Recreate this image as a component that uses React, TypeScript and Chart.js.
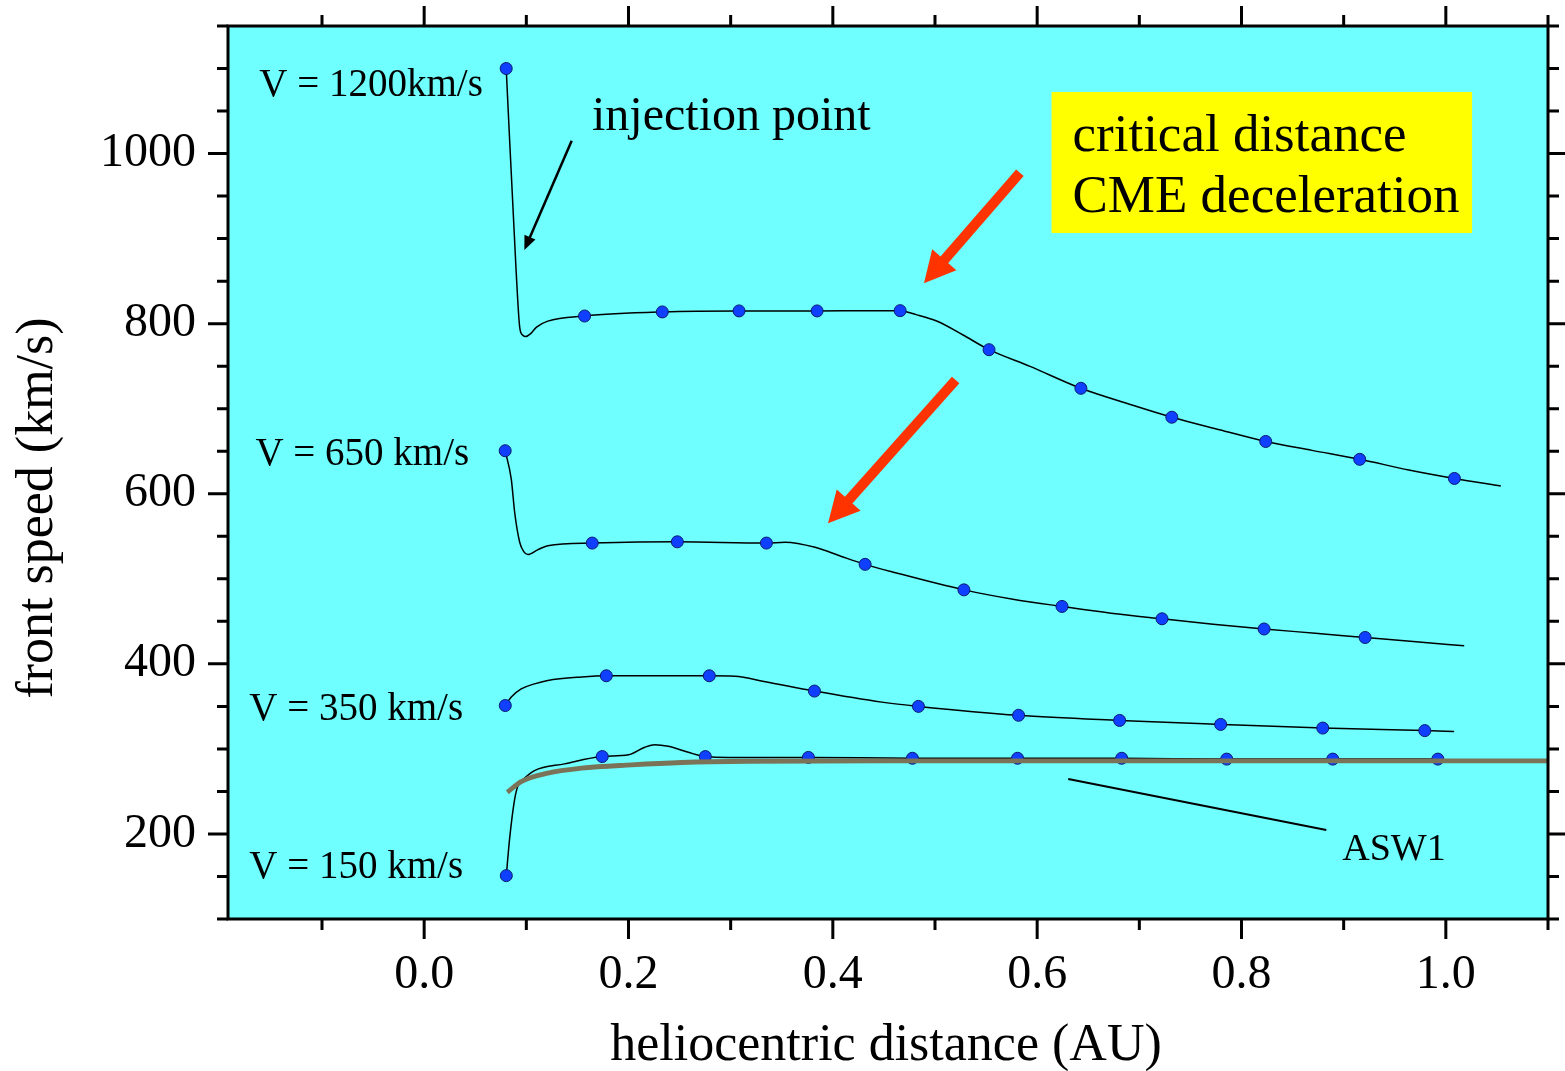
import React, { useEffect, useRef } from 'react';
import { Chart, registerables } from 'chart.js';

Chart.register(...registerables);

const FONT = '"Liberation Serif", "Times New Roman", Times, serif';

// ---- axes ----
const X_MIN = -0.192;
const X_MAX = 1.1;
const Y_MIN = 100;
const Y_MAX = 1150;
const X_TICKS = [-0.1, 0.0, 0.1, 0.2, 0.3, 0.4, 0.5, 0.6, 0.7, 0.8, 0.9, 1.0, 1.1];
const X_LABELED = [0.0, 0.2, 0.4, 0.6, 0.8, 1.0];
const Y_TICKS = [100, 150, 200, 250, 300, 350, 400, 450, 500, 550, 600, 650, 700, 750, 800, 850, 900, 950, 1000, 1050, 1100, 1150];
const Y_LABELED = [200, 400, 600, 800, 1000];

// ---- marker points (heliocentric distance AU, front speed km/s) ----
const PTS_1200: [number, number][] = [
  [0.0803, 1100], [0.157, 809], [0.2331, 813.8], [0.3082, 815], [0.3846, 815], [0.4659, 815.3],
  [0.5529, 769.4], [0.6428, 724], [0.7318, 690], [0.8237, 661.5], [0.9157, 640.5], [1.0084, 618],
];
const PTS_650: [number, number][] = [
  [0.0793, 650.6], [0.1645, 542], [0.2478, 543.5], [0.335, 542], [0.4316, 517], [0.5283, 487],
  [0.6243, 467.5], [0.7222, 453], [0.8221, 441], [0.921, 431],
];
const PTS_350: [number, number][] = [
  [0.0794, 351], [0.1783, 386], [0.2791, 386], [0.382, 368], [0.4838, 350], [0.5818, 339.5],
  [0.6807, 333.5], [0.7796, 328.8], [0.8795, 324.5], [0.9794, 321.5],
];
const PTS_150: [number, number][] = [
  [0.0804, 151], [0.1743, 291], [0.2752, 291], [0.3761, 290], [0.4779, 289], [0.5808, 289],
  [0.6827, 289], [0.7855, 288], [0.8893, 288], [0.9922, 288],
];

// ---- model curves ----
const CURVE_1200: [number, number][] = [
  [0.0803, 1100], [0.0898, 867], [0.0936, 795], [0.0965, 786.5], [0.0995, 785], [0.104, 788],
  [0.11, 796], [0.121, 803], [0.157, 809], [0.2331, 813.8], [0.3082, 815], [0.3846, 815],
  [0.4362, 815.3], [0.4659, 815.3], [0.4816, 810.6], [0.5022, 802.8], [0.527, 787], [0.5529, 769.4],
  [0.593, 749.8], [0.6428, 724], [0.6919, 704.7], [0.7318, 690], [0.7784, 675.3], [0.8237, 661.5],
  [0.869, 651], [0.9157, 640.5], [0.9638, 628], [1.0084, 618], [1.0538, 609],
];
const CURVE_650: [number, number][] = [
  [0.0793, 650.6], [0.0853, 617], [0.0886, 578], [0.0935, 543], [0.0975, 532], [0.1016, 528.5],
  [0.111, 534], [0.121, 539], [0.1645, 542], [0.2478, 543.5], [0.335, 542], [0.3533, 543],
  [0.3827, 537], [0.4084, 526.3], [0.4316, 517], [0.4603, 507.5], [0.5283, 487], [0.5763, 476],
  [0.6243, 467.5], [0.6723, 459.6], [0.7222, 453], [0.7722, 446.7], [0.8221, 441], [0.8722, 436],
  [0.921, 431], [0.968, 426.2], [1.018, 421.2],
];
const CURVE_350: [number, number][] = [
  [0.0794, 351], [0.0853, 361], [0.095, 370.5], [0.108, 376.5], [0.121, 380.5], [0.154, 384.6],
  [0.1783, 386], [0.2791, 386], [0.304, 385.5], [0.334, 379], [0.382, 368], [0.448, 355],
  [0.4838, 350], [0.5818, 339.5], [0.6807, 333.5], [0.7796, 328.8], [0.8795, 324.5], [0.9794, 321.5],
  [1.0081, 320.5],
];
const CURVE_150: [number, number][] = [
  [0.0804, 151], [0.0836, 194], [0.0886, 241], [0.0925, 259], [0.0966, 264], [0.108, 274.5],
  [0.1374, 282.4], [0.1743, 291], [0.2, 293], [0.216, 302], [0.2258, 305], [0.239, 303],
  [0.2585, 296], [0.2752, 291], [0.298, 290], [0.3761, 290], [0.4779, 289], [0.5808, 289],
  [0.6827, 289], [0.7855, 288], [0.8893, 288], [0.9922, 288],
];
const CURVE_ASW1: [number, number][] = [
  [0.0814, 249], [0.095, 261.5], [0.121, 271.5], [0.154, 277.3], [0.203, 281.2], [0.252, 284],
  [0.317, 285.5], [0.45, 286], [0.7, 286], [1.1, 286],
];

// ---- annotation texts ----
const LABEL_TEXTS = ['V = 1200km/s', 'V = 650 km/s', 'V = 350 km/s', 'V = 150 km/s'];
const INJECTION_TEXT = 'injection point';
const BOX_TEXTS = ['critical distance', 'CME deceleration'];
const ASW_TEXT = 'ASW1';
const X_TITLE = 'heliocentric distance (AU)';
const Y_TITLE = 'front speed (km/s)';

const toXY = (arr: [number, number][]) => arr.map(([x, y]) => ({ x, y }));

function drawArrow(ctx: CanvasRenderingContext2D, x1: number, y1: number, x2: number, y2: number,
  shaft: number, headLen: number, headW: number, color: string) {
  const dx = x2 - x1, dy = y2 - y1;
  const len = Math.hypot(dx, dy);
  const ux = dx / len, uy = dy / len;
  const bx = x2 - ux * headLen, by = y2 - uy * headLen;
  ctx.save();
  ctx.strokeStyle = color;
  ctx.fillStyle = color;
  ctx.lineWidth = shaft;
  ctx.lineCap = 'butt';
  ctx.beginPath();
  ctx.moveTo(x1, y1);
  ctx.lineTo(bx + ux * 2, by + uy * 2);
  ctx.stroke();
  ctx.beginPath();
  ctx.moveTo(x2, y2);
  ctx.lineTo(bx - uy * headW / 2, by + ux * headW / 2);
  ctx.lineTo(bx + uy * headW / 2, by - ux * headW / 2);
  ctx.closePath();
  ctx.fill();
  ctx.restore();
}

const isIn = (v: number, list: number[]) => list.some((l) => Math.abs(l - v) < 1e-6);

const decorPlugin = {
  id: 'decor',
  beforeDraw(chart: any) {
    const { ctx, chartArea: a } = chart;
    ctx.save();
    ctx.fillStyle = '#6FFFFF';
    ctx.fillRect(a.left, a.top, a.right - a.left, a.bottom - a.top);
    ctx.restore();
  },
  afterDatasetsDraw(chart: any) {
    const { ctx, chartArea: a } = chart;
    const xs = chart.scales.x, ys = chart.scales.y;
    const px = (v: number) => xs.getPixelForValue(v);
    const py = (v: number) => ys.getPixelForValue(v);
    ctx.save();

    // yellow box
    const bx1 = px(0.6141), bx2 = px(1.0257), by1 = py(1072.4), by2 = py(906.6);
    ctx.fillStyle = '#FFFF00';
    ctx.fillRect(bx1, by1, bx2 - bx1, by2 - by1);

    ctx.fillStyle = '#000';
    ctx.textAlign = 'left';
    ctx.textBaseline = 'alphabetic';
    ctx.font = `53px ${FONT}`;
    ctx.fillText(BOX_TEXTS[0], px(0.6346), py(1003));
    ctx.fillText(BOX_TEXTS[1], px(0.6346), py(931.3));

    ctx.font = `39px ${FONT}`;
    ctx.fillText(LABEL_TEXTS[0], px(-0.1613), py(1067.7));
    ctx.fillText(LABEL_TEXTS[1], px(-0.1652), py(633.8));
    ctx.fillText(LABEL_TEXTS[2], px(-0.1711), py(334));
    ctx.fillText(LABEL_TEXTS[3], px(-0.1711), py(148.2));

    ctx.font = `48px ${FONT}`;
    ctx.fillText(INJECTION_TEXT, px(0.1643), py(1027.7));

    ctx.font = `38px ${FONT}`;
    ctx.fillText(ASW_TEXT, px(0.8986), py(169.4));

    // ASW1 pointer
    ctx.strokeStyle = '#000';
    ctx.lineWidth = 2;
    ctx.beginPath();
    ctx.moveTo(px(0.6304), py(264.6));
    ctx.lineTo(px(0.883), py(204.7));
    ctx.stroke();

    // arrows
    drawArrow(ctx, px(0.1444), py(1015.1), px(0.0981), py(886.6), 2.5, 14, 12, '#000');
    drawArrow(ctx, px(0.5831), py(977.5), px(0.4892), py(847.5), 10, 31, 32, '#FF3300');
    drawArrow(ctx, px(0.5202), py(733.8), px(0.3953), py(565.3), 10, 31, 32, '#FF3300');

    // frame
    ctx.strokeStyle = '#000';
    ctx.lineWidth = 3;
    ctx.strokeRect(a.left, a.top, a.right - a.left, a.bottom - a.top);

    // ticks
    ctx.lineWidth = 3;
    ctx.beginPath();
    X_TICKS.forEach((v) => {
      const x = px(v);
      const L = isIn(v, X_LABELED) ? 20 : 11;
      ctx.moveTo(x, a.bottom); ctx.lineTo(x, a.bottom + L);
      ctx.moveTo(x, a.top); ctx.lineTo(x, a.top - L);
    });
    Y_TICKS.forEach((v) => {
      const y = py(v);
      const L = isIn(v, Y_LABELED) ? 20 : 11;
      ctx.moveTo(a.left, y); ctx.lineTo(a.left - L, y);
      ctx.moveTo(a.right, y); ctx.lineTo(a.right + L, y);
    });
    ctx.stroke();

    // axis titles
    ctx.font = `52px ${FONT}`;
    ctx.textAlign = 'center';
    ctx.textBaseline = 'alphabetic';
    ctx.fillText(X_TITLE, 886, 1060);
    ctx.translate(52, 508);
    ctx.rotate(-Math.PI / 2);
    ctx.fillText(Y_TITLE, 0, 0);
    ctx.restore();
  },
};

const zeroPad = (s: any) => {
  s.paddingTop = 0;
  s.paddingBottom = 0;
  s.paddingLeft = 0;
  s.paddingRight = 0;
};

export default function App() {
  const ref = useRef<HTMLCanvasElement | null>(null);
  useEffect(() => {
    document.body.style.margin = '0';
    document.body.style.overflow = 'hidden';
    const canvas = ref.current;
    if (!canvas) return;
    const curve = (data: [number, number][], order: number, color = '#000', width = 1.5) => ({
      data: toXY(data),
      borderColor: color,
      borderWidth: width,
      pointRadius: 0,
      fill: false,
      cubicInterpolationMode: 'monotone' as const,
      order,
    });
    const markers = (data: [number, number][]) => ({
      data: toXY(data),
      showLine: false,
      pointRadius: 6,
      pointBackgroundColor: '#1040FF',
      pointBorderColor: '#0A1A70',
      pointBorderWidth: 1,
      order: 1,
    });
    const chart = new Chart(canvas, {
      type: 'line',
      data: {
        datasets: [
          { ...curve(CURVE_ASW1, 0, '#7A7357', 4.8), label: 'ASW1' } as any,
          { ...markers(PTS_1200), label: 'V1200 pts' },
          { ...markers(PTS_650), label: 'V650 pts' },
          { ...markers(PTS_350), label: 'V350 pts' },
          { ...markers(PTS_150), label: 'V150 pts' },
          { ...curve(CURVE_1200, 2), label: 'V1200' },
          { ...curve(CURVE_650, 2), label: 'V650' },
          { ...curve(CURVE_350, 2), label: 'V350' },
          { ...curve(CURVE_150, 2), label: 'V150' },
        ],
      },
      options: {
        responsive: false,
        devicePixelRatio: 1,
        animation: false,
        events: [],
        layout: { padding: { top: 26, right: 17, left: 0, bottom: 0 } },
        plugins: { legend: { display: false }, tooltip: { enabled: false } },
        scales: {
          x: {
            type: 'linear',
            position: 'bottom',
            min: X_MIN,
            max: X_MAX,
            grid: { display: false },
            border: { display: false },
            afterBuildTicks: (s: any) => { s.ticks = X_TICKS.map((v) => ({ value: v })); },
            afterFit: (s: any) => { s.height = 152; zeroPad(s); },
            ticks: {
              autoSkip: false,
              maxRotation: 0,
              minRotation: 0,
              padding: 20,
              color: '#000',
              font: { family: FONT, size: 48 },
              callback: (v: any) => (isIn(Number(v), X_LABELED) ? Number(v).toFixed(1) : ''),
            },
          },
          y: {
            type: 'linear',
            position: 'left',
            min: Y_MIN,
            max: Y_MAX,
            grid: { display: false },
            border: { display: false },
            afterBuildTicks: (s: any) => { s.ticks = Y_TICKS.map((v) => ({ value: v })); },
            afterFit: (s: any) => { s.width = 228; zeroPad(s); },
            ticks: {
              autoSkip: false,
              padding: 24,
              color: '#000',
              font: { family: FONT, size: 48 },
              callback: (v: any) => (isIn(Number(v), Y_LABELED) ? String(v) : ''),
            },
          },
        },
      },
      plugins: [decorPlugin],
    } as any);
    return () => chart.destroy();
  }, []);
  return <canvas ref={ref} width={1565} height={1071} style={{ display: 'block' }} />;
}
